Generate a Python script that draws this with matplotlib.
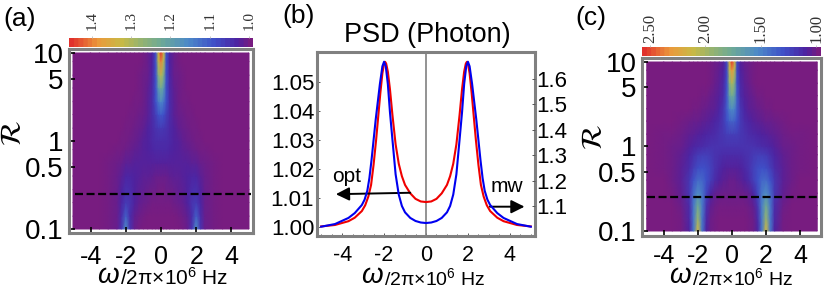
import numpy as np
import matplotlib
matplotlib.use('Agg')
import matplotlib.pyplot as plt
from matplotlib.colors import LinearSegmentedColormap

plt.rcParams['font.family'] = ['Liberation Sans', 'DejaVu Sans']
plt.rcParams['mathtext.fontset'] = 'custom'
plt.rcParams['mathtext.rm'] = 'Liberation Sans'
plt.rcParams['mathtext.it'] = 'Liberation Sans:italic'

W, H = 830, 289
GREY = '#808080'

# heat map grid, colour values are fractions of the colour bar (0 purple, 1 red)
omega_half = [0, .15, .3, .5, .75, 1, 1.25, 1.5, 1.75, 2, 2.25, 2.5, 3, 3.5, 4, 5]
R_rows = [0.1, 0.14, 0.2, 0.28, 0.4, 0.56, 0.8, 1, 1.4, 2, 2.8, 4, 5.6, 8, 10]

field_a = [
    [0, 0, 0, 0, 0, 0, .01, .03, .12, .36, .12, .03, .01, 0, 0, 0],
    [0, 0, 0, 0, 0, .01, .02, .04, .10, .24, .10, .03, .01, 0, 0, 0],
    [.01, .01, .01, .01, .02, .03, .04, .07, .12, .14, .08, .03, .01, 0, 0, 0],
    [.01, .01, .02, .02, .03, .04, .05, .07, .10, .11, .07, .03, .01, 0, 0, 0],
    [.03, .03, .03, .04, .05, .05, .06, .07, .08, .08, .05, .03, .01, 0, 0, 0],
    [.06, .06, .06, .06, .06, .06, .06, .06, .05, .05, .03, .02, .01, 0, 0, 0],
    [.09, .09, .09, .08, .07, .06, .05, .04, .03, .02, .01, .01, 0, 0, 0, 0],
    [.10, .10, .10, .09, .07, .06, .04, .03, .02, .01, .01, 0, 0, 0, 0, 0],
    [.14, .13, .12, .09, .07, .04, .03, .02, .01, .01, 0, 0, 0, 0, 0, 0],
    [.22, .20, .15, .10, .05, .03, .02, .01, .01, 0, 0, 0, 0, 0, 0, 0],
    [.35, .30, .20, .10, .05, .02, .01, .01, 0, 0, 0, 0, 0, 0, 0, 0],
    [.50, .42, .20, .09, .04, .02, .01, 0, 0, 0, 0, 0, 0, 0, 0, 0],
    [.68, .55, .20, .08, .03, .02, .01, 0, 0, 0, 0, 0, 0, 0, 0, 0],
    [.88, .68, .20, .07, .03, .01, 0, 0, 0, 0, 0, 0, 0, 0, 0, 0],
    [1.0, .72, .20, .07, .03, .01, 0, 0, 0, 0, 0, 0, 0, 0, 0, 0],
]

field_c = [
    [0, 0, 0, 0, 0, .01, .02, .07, .30, .74, .30, .07, .01, 0, 0, 0],
    [0, 0, 0, 0, 0, .01, .02, .09, .30, .62, .30, .09, .01, 0, 0, 0],
    [.01, .01, .01, .01, .01, .02, .04, .12, .32, .50, .30, .10, .02, 0, 0, 0],
    [.02, .02, .02, .02, .03, .04, .08, .17, .30, .36, .27, .13, .04, .01, 0, 0],
    [.03, .03, .04, .05, .07, .10, .15, .20, .26, .27, .21, .13, .05, .02, 0, 0],
    [.06, .06, .06, .07, .09, .12, .16, .19, .20, .19, .15, .10, .05, .02, .01, 0],
    [.10, .10, .10, .10, .11, .12, .14, .15, .15, .14, .11, .08, .04, .02, .01, 0],
    [.12, .12, .12, .12, .12, .12, .12, .11, .10, .09, .08, .06, .03, .02, .01, 0],
    [.15, .15, .15, .13, .12, .10, .09, .08, .07, .06, .05, .04, .02, .01, .01, 0],
    [.25, .24, .20, .14, .10, .08, .06, .05, .04, .03, .03, .02, .01, 0, 0, 0],
    [.36, .33, .23, .13, .08, .05, .04, .03, .02, .01, .01, 0, 0, 0, 0, 0],
    [.50, .45, .22, .10, .06, .04, .03, .01, .01, 0, 0, 0, 0, 0, 0, 0],
    [.66, .55, .20, .09, .05, .03, .01, 0, 0, 0, 0, 0, 0, 0, 0, 0],
    [.85, .68, .18, .07, .04, .02, .01, 0, 0, 0, 0, 0, 0, 0, 0, 0],
    [1.0, .75, .18, .06, .03, .02, .01, 0, 0, 0, 0, 0, 0, 0, 0, 0],
]

# panel b, positive half of the two curves
omega_red = [0, .25, .5, .75, 1, 1.15, 1.3, 1.45, 1.6, 1.72, 1.82, 1.9, 1.95, 2.0, 2.08, 2.18, 2.28, 2.38, 2.5, 2.62, 2.75, 2.9, 3.06, 3.4, 3.7, 4.34, 5]
psd_red = [1.0086, 1.0088, 1.0097, 1.0116, 1.0145, 1.0175, 1.0218, 1.0285, 1.0385, 1.0475, 1.0535, 1.0563, 1.0569, 1.0563, 1.053, 1.046, 1.038, 1.030, 1.0215, 1.0145, 1.0105, 1.0075, 1.0055, 1.0032, 1.002, 1.0007, 1.0002]
omega_blue = [0, .25, .5, .75, 1, 1.15, 1.3, 1.45, 1.6, 1.72, 1.82, 1.92, 2.0, 2.08, 2.2, 2.3, 2.4, 2.5, 2.6, 2.7, 2.8, 2.93, 3.06, 3.4, 3.7, 4.34, 5]
psd_blue = [1.033, 1.035, 1.041, 1.053, 1.075, 1.1, 1.145, 1.225, 1.36, 1.47, 1.58, 1.65, 1.668, 1.65, 1.58, 1.51, 1.44, 1.36, 1.28, 1.21, 1.16, 1.125, 1.104, 1.072, 1.053, 1.029, 1.0185]

omega_ticks = [-4, -2, 0, 2, 4]
omega_minor = [-5, -4.5, -3.5, -3, -2.5, -1.5, -1, -.5, .5, 1, 1.5, 2.5, 3, 3.5, 4.5, 5]
R_ticks = [0.1, 0.5, 1, 5, 10]
R_labels = ['0.1', '0.5', '1', '5', '10']
cbar_a_ticks = [1.4, 1.3, 1.2, 1.1, 1.0]
cbar_a_labels = ['1.4', '1.3', '1.2', '1.1', '1.0']
cbar_c_ticks = [2.5, 2.0, 1.5, 1.0]
cbar_c_labels = ['2.50', '2.00', '1.50', '1.00']
left_ticks = [1.00, 1.01, 1.02, 1.03, 1.04, 1.05]
left_labels = ['1.00', '1.01', '1.02', '1.03', '1.04', '1.05']
right_ticks = [1.1, 1.2, 1.3, 1.4, 1.5, 1.6]
right_labels = ['1.1', '1.2', '1.3', '1.4', '1.5', '1.6']

rainbow = LinearSegmentedColormap.from_list('rainbow_psd', [
    (0, '#781c80'), (.07, '#4e22a0'), (.2, '#3f50c8'), (.35, '#4d8ac8'),
    (.5, '#6eaa96'), (.62, '#98b46e'), (.72, '#c8ba46'), (.85, '#eb9a3c'),
    (1, '#e1322d')], N=256)
rainbow_steps = rainbow.resampled(40)


def add_px_axes(x0, x1, y0, y1):
    # box given in image pixels, y counted from the top
    return fig.add_axes([x0 / W, 1 - y1 / H, (x1 - x0) / W, (y1 - y0) / H])


def px_text(x, y, s, **kw):
    kw.setdefault('ha', 'center')
    kw.setdefault('va', 'center')
    return fig.text(x / W, 1 - y / H, s, **kw)


def x_label(x, size):
    px_text(x, 283, r'$\omega$', fontsize=20, ha='left', va='baseline')
    px_text(x + 23, 285, r'/2π×10$^{6}$ Hz', fontsize=size, ha='left', va='baseline')


def heat_panel(box, img_x, img_y, field, cbar_box, cbar_lim, cbar_ticks, cbar_labels, xpad, cb_size, cb_pad):
    ax = add_px_axes(*box)
    w = np.array(omega_half)
    w_full = np.concatenate([-w[:0:-1], w])
    z = np.array(field)
    z_full = np.hstack([z[:, :0:-1], z])
    ax.pcolormesh(w_full, R_rows, z_full, cmap=rainbow, vmin=0, vmax=1, shading='gouraud')
    ax.set_yscale('log')
    ax.set_xlim((box[0] - img_x) / img_y[2], (box[1] - img_x) / img_y[2])
    ax.set_ylim(10 ** (-1 - (box[3] - img_y[0]) / img_y[1]), 10 ** (1 + (img_y[0] - 2 * img_y[1] - box[2]) / img_y[1]))
    ax.set_xticks(omega_ticks)
    ax.set_xticklabels([str(t) for t in omega_ticks], fontsize=18)
    ax.set_yticks(R_ticks)
    ax.set_yticklabels(R_labels, fontsize=20)
    ax.minorticks_off()
    ax.tick_params(direction='in', length=4, width=1.2, color='black', pad=4)
    ax.tick_params(axis='x', pad=xpad)
    for s in ax.spines.values():
        s.set_color(GREY)
        s.set_linewidth(2.2)
    ax.axhline(0.25, xmin=.03, xmax=.99, color='black', lw=1.6, dashes=(3.6, 1.6))

    cb = add_px_axes(*cbar_box)
    cb.imshow(np.linspace(1, 0, 256)[None, :], aspect='auto', cmap=rainbow_steps,
              extent=[cbar_lim[0], cbar_lim[1], 0, 1])
    cb.set_xlim(cbar_lim)
    cb.set_yticks([])
    cb.xaxis.tick_top()
    cb.set_xticks(cbar_ticks)
    cb.set_xticklabels(cbar_labels, rotation=90, fontsize=cb_size, family='Liberation Serif', color='#333333')
    cb.tick_params(length=1.5, width=.6, color='#bbbbbb', pad=cb_pad)
    for s in cb.spines.values():
        s.set_visible(False)
    return ax


fig = plt.figure(figsize=(W / 100, H / 100), dpi=100)

# (a)
heat_panel((69, 253, 49, 233), 161, (229, 88, 17.6), field_a, (69, 253, 38, 47), (1.458, 0.99),
           cbar_a_ticks, cbar_a_labels, 9, 11, 4)
px_text(20, 19, '(a)', fontsize=19)
px_text(13, 133, r'$\mathcal{R}$', fontsize=21, rotation=90, math_fontfamily='stix')
x_label(97, 15)

# (c)
heat_panel((642, 821, 58, 236), 732, (231, 84.5, 17.05), field_c, (642, 821, 47, 56), (2.572, 0.955),
           cbar_c_ticks, cbar_c_labels, 6, 12, 1.5)
px_text(591, 18, '(c)', fontsize=19)
px_text(594, 137, r'$\mathcal{R}$', fontsize=21, rotation=90, math_fontfamily='stix')
x_label(669, 14)

# (b)
ax = add_px_axes(317, 535, 52, 236)
ax.set_xlim(-5.2, 5.2)
ax.set_ylim(0.9969, 1.0603)
ax.axvline(0, color=GREY, lw=1.2)
wr = np.array(omega_red)
ax.plot(np.concatenate([-wr[:0:-1], wr]), psd_red[:0:-1] + psd_red, color='#f00000', lw=1.5)
ax.set_xticks(omega_ticks)
ax.set_xticks(omega_minor, minor=True)
ax.set_xticklabels([str(t) for t in omega_ticks], fontsize=15.5)
ax.set_yticks(left_ticks)
ax.set_yticklabels(left_labels, fontsize=16)
ax.tick_params(which='both', direction='in', length=2.5, width=.7, color='#555555', pad=2)
ax.tick_params(which='minor', length=1.5)
ax.tick_params(axis='x', which='major', pad=6.5)
for s in ax.spines.values():
    s.set_color(GREY)
    s.set_linewidth(2.2)

ax2 = ax.twinx()
ax2.set_ylim(1.1 - (236 - 206) / 254, 1.1 + (206 - 52) / 254)
wb = np.array(omega_blue)
ax2.plot(np.concatenate([-wb[:0:-1], wb]), psd_blue[:0:-1] + psd_blue, color='#0000f0', lw=1.5)
ax2.set_yticks(right_ticks)
ax2.set_yticklabels(right_labels, fontsize=16)
ax2.tick_params(direction='in', length=2.5, width=.7, color='#555555', pad=1)
for s in ax2.spines.values():
    s.set_visible(False)

ax.annotate('', xy=(-4.3, 1.0113), xytext=(-0.75, 1.0118),
            arrowprops=dict(arrowstyle='-|>', color='black', lw=1.4, mutation_scale=20, shrinkA=0, shrinkB=0))
ax.annotate('', xy=(4.7, 1.007), xytext=(3.05, 1.007),
            arrowprops=dict(arrowstyle='-|>', color='black', lw=1.4, mutation_scale=20, shrinkA=0, shrinkB=0))
px_text(347, 177, 'opt', fontsize=15)
px_text(507, 187, 'mw', fontsize=15)
px_text(299, 16, '(b)', fontsize=19)
px_text(427, 35, 'PSD (Photon)', fontsize=19.5)
x_label(361, 14)

fig.savefig('out.png', dpi=100)
